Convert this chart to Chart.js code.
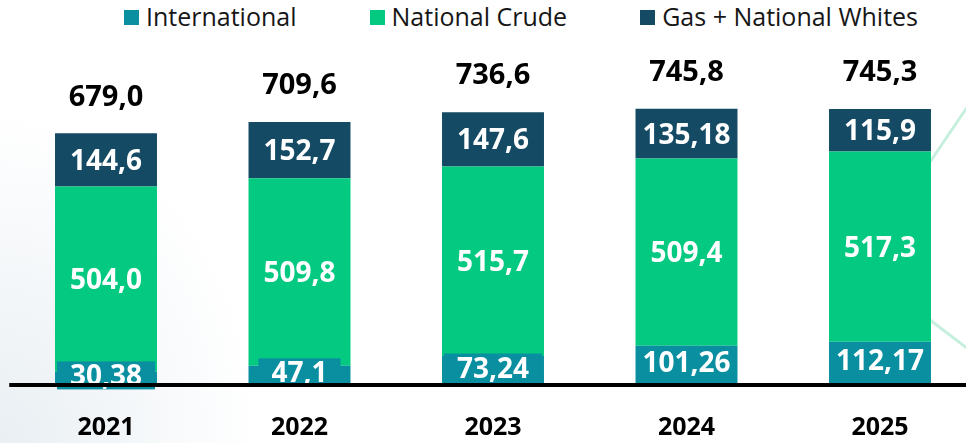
<!DOCTYPE html>
<html>
<head>
<meta charset="utf-8">
<script src="https://cdn.jsdelivr.net/npm/chart.js@4.4.1/dist/chart.umd.min.js"></script>
<style>
  html, body { margin: 0; padding: 0; width: 966px; height: 443px; overflow: hidden; }
  body {
    position: relative;
    background:
      radial-gradient(ellipse 260px 330px at 0% 100%, #e9eff3 0%, rgba(255,255,255,0) 100%),
      #ffffff;
  }
  #legend {
    position: absolute; top: 1px; left: 124px;
    display: flex; gap: 73px;
    font-family: "Open Sans", sans-serif; font-size: 25px; line-height: 30px; color: #161616;
  }
  .item { display: flex; align-items: flex-start; }
  .box { width: 15px; height: 15px; margin-top: 9px; margin-right: 7px; }
  canvas, svg.deco { position: absolute; left: 0; top: 0; }
</style>
</head>
<body>
<svg class="deco" width="966" height="443">
  <path d="M930 162 L968 106" stroke="#c6efdd" stroke-width="3" fill="none"/>
  <path d="M930 320 L968 349" stroke="#c6efdd" stroke-width="3" fill="none"/>
</svg>
<div id="legend"></div>
<canvas id="c" width="966" height="443"></canvas>
<script>
// ---- data ----
const years = ["2021", "2022", "2023", "2024", "2025"];
const international = [30.38, 47.1, 73.24, 101.26, 112.17];
const nationalCrude = [504.0, 509.8, 515.7, 509.4, 517.3];
const gasWhites = [144.6, 152.7, 147.6, 135.18, 115.9];
const totals = [679.0, 709.6, 736.6, 745.8, 745.3];
const internationalLabels = ["30,38", "47,1", "73,24", "101,26", "112,17"];
const nationalCrudeLabels = ["504,0", "509,8", "515,7", "509,4", "517,3"];
const gasWhitesLabels = ["144,6", "152,7", "147,6", "135,18", "115,9"];
const seriesNames = ["International", "National Crude", "Gas + National Whites"];
const seriesColors = ["#0a8fa1", "#04c980", "#154a65"];

const segLabels = [internationalLabels, nationalCrudeLabels, gasWhitesLabels];
const fmtTotal = v => v.toFixed(1).replace('.', ',');

// HTML legend built from the series
const legendEl = document.getElementById('legend');
seriesNames.forEach((n, i) => {
  const it = document.createElement('div'); it.className = 'item';
  const b = document.createElement('span'); b.className = 'box'; b.style.background = seriesColors[i];
  const t = document.createElement('span'); t.textContent = n;
  it.appendChild(b); it.appendChild(t); legendEl.appendChild(it);
});

const labelPlugin = {
  id: 'labels',
  afterDatasetsDraw(chart) {
    const ctx = chart.ctx;
    const xs = chart.scales.x, ys = chart.scales.y;
    ctx.save();
    const step = xs.getPixelForValue(1) - xs.getPixelForValue(0);
    const y0 = ys.getPixelForValue(0) + 2;
    // segment labels
    chart.data.datasets.forEach((ds, di) => {
      const meta = chart.getDatasetMeta(di);
      meta.data.forEach((bar, i) => {
        const p = bar.getProps(['x', 'y', 'base'], true);
        const h = Math.abs(p.base - p.y);
        const cy = (p.y + p.base) / 2 - (di === 0 ? 2 : 0);
        const txt = segLabels[di][i];
        ctx.font = 'bold 28px "Open Sans"';
        const w = ctx.measureText(txt).width;
        if (h < 28) {
          ctx.fillStyle = ds.backgroundColor;
          ctx.fillRect(p.x - w / 2 - 13, cy - 14, w + 26, 28);
        }
        ctx.fillStyle = '#ffffff';
        ctx.textAlign = 'center';
        ctx.textBaseline = 'middle';
        ctx.fillText(txt, p.x, cy + 2);
      });
    });
    // baseline axis line
    ctx.strokeStyle = '#000000';
    ctx.lineWidth = 4;
    ctx.beginPath();
    ctx.moveTo(chart.chartArea.left - step / 2, y0);
    ctx.lineTo(chart.width, y0);
    ctx.stroke();
    // totals above stacks
    ctx.font = 'bold 29px "Open Sans"';
    ctx.fillStyle = '#000000';
    ctx.textAlign = 'center';
    ctx.textBaseline = 'middle';
    totals.forEach((t, i) => {
      ctx.fillText(fmtTotal(t), xs.getPixelForValue(i), ys.getPixelForValue(t) - 36);
    });
    ctx.restore();
  }
};

new Chart(document.getElementById('c'), {
  type: 'bar',
  data: {
    labels: years,
    datasets: [
      { label: seriesNames[0], data: international, backgroundColor: seriesColors[0] },
      { label: seriesNames[1], data: nationalCrude, backgroundColor: seriesColors[1] },
      { label: seriesNames[2], data: gasWhites, backgroundColor: seriesColors[2] }
    ]
  },
  options: {
    responsive: false,
    devicePixelRatio: 1,
    animation: false,
    layout: { padding: { left: 106, right: 86, top: 41, bottom: 0 } },
    datasets: { bar: { categoryPercentage: 1, barPercentage: 0.527, clip: false, borderWidth: 0 } },
    plugins: { legend: { display: false }, tooltip: { enabled: false } },
    scales: {
      x: {
        stacked: true,
        offset: false,
        grid: { display: false, drawTicks: false },
        border: { display: false },
        afterFit: s => { s.height = 60; },
        ticks: {
          autoSkip: false, maxRotation: 0, minRotation: 0, padding: 30,
          color: '#000000',
          font: { family: '"Open Sans"', size: 25, weight: 'bold' }
        }
      },
      y: {
        stacked: true,
        display: false,
        min: 0,
        max: 930
      }
    }
  },
  plugins: [labelPlugin]
});
</script>
</body>
</html>
